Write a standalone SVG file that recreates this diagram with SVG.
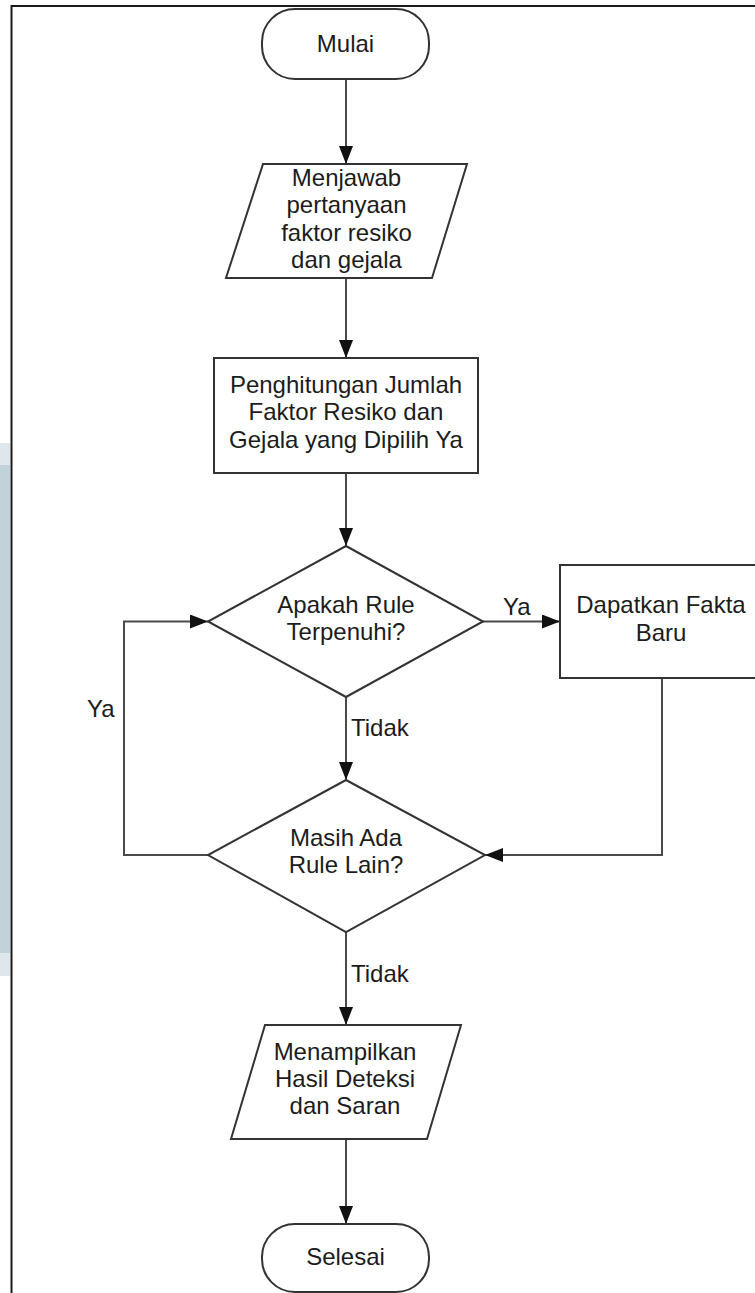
<svg xmlns="http://www.w3.org/2000/svg" width="755" height="1293" viewBox="0 0 755 1293">
  <defs>
    <marker id="arrow" viewBox="0 0 18 14" refX="18" refY="7" markerWidth="18" markerHeight="14" markerUnits="userSpaceOnUse" orient="auto">
      <path d="M0,0 L18,7 L0,14 Z" fill="#111"/>
    </marker>
    <style>
      .shape { fill: #fff; stroke: #333; stroke-width: 2; }
      .edge { fill: none; stroke: #4a4a4a; stroke-width: 2; }
      .label { font-family: "Liberation Sans", Arial, sans-serif; font-size: 24px; fill: #1c1c1c; text-anchor: middle; }
      .elabel { font-family: "Liberation Sans", Arial, sans-serif; font-size: 24px; fill: #1c1c1c; }
    </style>
  </defs>

  <rect width="755" height="1293" fill="#fff"/>

  <!-- side strip behind the page -->
  <g id="side-strip">
    <rect x="0" y="443" width="10" height="533" fill="#dfe7ec"/>
    <rect x="0" y="465" width="10" height="488" fill="#c3d1da"/>
  </g>

  <!-- page frame -->
  <path d="M11.5,1293 V6 H755" fill="none" stroke="#1a1a1a" stroke-width="2"/>

  <!-- connectors -->
  <g id="connectors">
    <line class="edge" x1="346" y1="79" x2="346" y2="164" marker-end="url(#arrow)"/>
    <line class="edge" x1="346" y1="278" x2="346" y2="358" marker-end="url(#arrow)"/>
    <line class="edge" x1="346" y1="473" x2="346" y2="546" marker-end="url(#arrow)"/>
    <line class="edge" x1="483" y1="621.5" x2="560" y2="621.5" marker-end="url(#arrow)"/>
    <line class="edge" x1="346" y1="697" x2="346" y2="780" marker-end="url(#arrow)"/>
    <path class="edge" d="M208,855 H124 V621.5 H208" marker-end="url(#arrow)"/>
    <path class="edge" d="M662,678 V855 H485" marker-end="url(#arrow)"/>
    <line class="edge" x1="346" y1="932" x2="346" y2="1025" marker-end="url(#arrow)"/>
    <line class="edge" x1="346" y1="1139" x2="346" y2="1224" marker-end="url(#arrow)"/>
    <text class="elabel" x="503" y="615">Ya</text>
    <text class="elabel" x="351" y="736">Tidak</text>
    <text class="elabel" x="87" y="717">Ya</text>
    <text class="elabel" x="351" y="982">Tidak</text>
  </g>

  <g id="mulai">
    <rect class="shape" x="262" y="9" width="167" height="70" rx="33" ry="33"/>
    <text class="label" x="345.5" y="52">Mulai</text>
  </g>

  <g id="menjawab">
    <polygon class="shape" points="263,164 467,164 432,278 226,278"/>
    <text class="label" x="346.5" y="186">Menjawab</text>
    <text class="label" x="346.5" y="213">pertanyaan</text>
    <text class="label" x="346.5" y="241">faktor resiko</text>
    <text class="label" x="346.5" y="268">dan gejala</text>
  </g>

  <g id="penghitungan">
    <rect class="shape" x="214" y="358" width="264" height="115"/>
    <text class="label" x="346" y="393">Penghitungan Jumlah</text>
    <text class="label" x="346" y="420">Faktor Resiko dan</text>
    <text class="label" x="346" y="448">Gejala yang Dipilih Ya</text>
  </g>

  <g id="rule-terpenuhi">
    <polygon class="shape" points="346,546 483,621.5 346,697 208,621.5"/>
    <text class="label" x="346" y="613">Apakah Rule</text>
    <text class="label" x="346" y="640">Terpenuhi?</text>
  </g>

  <g id="fakta-baru">
    <rect class="shape" x="560" y="565" width="204" height="113"/>
    <text class="label" x="661" y="613">Dapatkan Fakta</text>
    <text class="label" x="661" y="641">Baru</text>
  </g>

  <g id="rule-lain">
    <polygon class="shape" points="346,780 485,855 346,932 208,855"/>
    <text class="label" x="346" y="846">Masih Ada</text>
    <text class="label" x="346" y="873">Rule Lain?</text>
  </g>

  <g id="menampilkan">
    <polygon class="shape" points="265,1025 461,1025 427,1139 231,1139"/>
    <text class="label" x="345" y="1060">Menampilkan</text>
    <text class="label" x="345" y="1087">Hasil Deteksi</text>
    <text class="label" x="345" y="1114">dan Saran</text>
  </g>

  <g id="selesai">
    <rect class="shape" x="262" y="1224" width="167" height="68" rx="33" ry="33"/>
    <text class="label" x="345.5" y="1265">Selesai</text>
  </g>
</svg>
